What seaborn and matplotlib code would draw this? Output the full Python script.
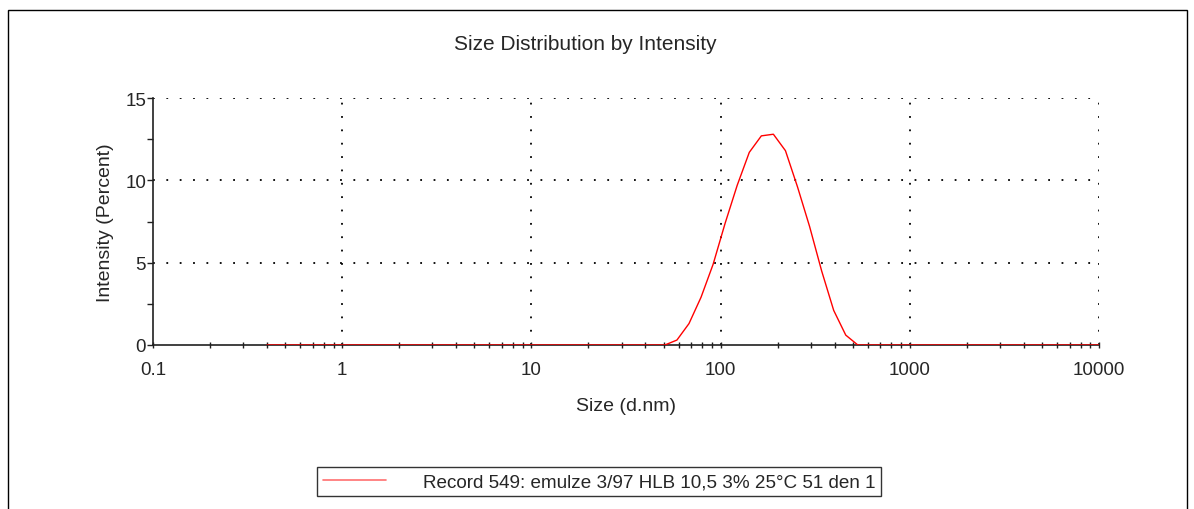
import numpy as np
import pandas as pd
import seaborn as sns
import matplotlib.pyplot as plt
import matplotlib.patches as patches
from matplotlib.ticker import FixedLocator, FuncFormatter, LogLocator, NullFormatter


# size bins (d.nm) and intensity (percent)
sizes = [0.4, 50.75, 58.77, 68.06, 78.82, 91.28, 105.7, 122.4, 141.8, 164.2,
         190.1, 220.2, 255.0, 295.3, 342.0, 396.1, 458.7, 531.2, 10000]
intensity = [0.0, 0.0, 0.3, 1.3, 2.9, 4.9, 7.4, 9.7, 11.7, 12.7,
             12.8, 11.8, 9.6, 7.2, 4.5, 2.1, 0.6, 0.0, 0.0]

x_ticks = [0.1, 1, 10, 100, 1000, 10000]
y_ticks = [0, 5, 10, 15]
y_minor = [2.5, 7.5, 12.5]
y_grid = [5, 10, 15]

title = 'Size Distribution by Intensity'
x_label = 'Size (d.nm)'
y_label = 'Intensity (Percent)'
record = 'Record 549: emulze 3/97 HLB 10,5 3% 25°C 51 den 1'


def main():

	"""
	draw the size distribution chart
	"""

	sns.set_style( 'white' )
	plt.rcParams['font.family'] = [ 'Liberation Sans', 'DejaVu Sans' ]

	df = pd.DataFrame( { 'size': sizes, 'intensity': intensity } )

	fig = plt.figure( figsize=(11.94, 5.10), dpi=100 )
	ax = fig.add_axes( [ 153/1194, 1-346/510, (1099-153)/1194, (346-99)/510 ] )

	# dotted grid, drawn by hand so the zero line stays solid
	dots = (0, (1, 6.4))
	for v in y_grid:
		ax.axhline( v, color='black', linestyle=dots, linewidth=1.3, zorder=0.5 )
	for v in x_ticks[1:]:
		ax.axvline( v, color='black', linestyle=dots, linewidth=1.3, zorder=0.5 )

	sns.lineplot( data=df, x='size', y='intensity', ax=ax, color='#ff0000',
				  linewidth=1.0, label=record, legend=False, zorder=3 )

	# axes scales
	ax.set_xscale( 'log' )
	ax.set_xlim( 0.1, 10000 )
	ax.set_ylim( 0, 15 )

	ax.xaxis.set_major_locator( FixedLocator( x_ticks ) )
	ax.xaxis.set_major_formatter( FuncFormatter( lambda v, p: '{:g}'.format( v ) ) )
	ax.xaxis.set_minor_locator( LogLocator( base=10, subs=np.arange( 2, 10 ) ) )
	ax.xaxis.set_minor_formatter( NullFormatter() )
	ax.yaxis.set_major_locator( FixedLocator( y_ticks ) )
	ax.yaxis.set_minor_locator( FixedLocator( y_minor ) )

	ax.tick_params( axis='x', which='both', direction='inout', length=5, width=1,
					color='#202020', labelsize=13.5, pad=9, bottom=True )
	ax.tick_params( axis='y', which='both', direction='out', length=4.5, width=1,
					color='#202020', labelsize=13.5, pad=0.5, left=True )

	# spines
	for s in [ 'top', 'right' ]:
		ax.spines[ s ].set_visible( False )
	for s in [ 'left', 'bottom' ]:
		ax.spines[ s ].set_color( '#202020' )
		ax.spines[ s ].set_linewidth( 1.2 )
		ax.spines[ s ].set_zorder( 2.5 )

	ax.set_xlabel( x_label, fontsize=14, labelpad=14 )
	ax.set_ylabel( y_label, fontsize=14, labelpad=8 )

	fig.text( 585/1194, 1-44/510, title, ha='center', va='center', fontsize=15 )

	# legend below
	handles, labels = ax.get_legend_handles_labels()
	leg = fig.legend( handles, labels, loc='center', bbox_to_anchor=( 599/1194, 1-482.5/510 ),
					  fontsize=13.6, handlelength=3.35, handletextpad=1.95, fancybox=False,
					  frameon=True, borderpad=0.3, borderaxespad=0 )
	leg.get_frame().set_edgecolor( 'black' )
	leg.get_frame().set_linewidth( 1.0 )
	for line in leg.get_lines():
		line.set_color( '#ff7070' )
		line.set_linewidth( 1.2 )

	# outer frame
	fig.patches.append( patches.Rectangle( ( 8/1194, -0.1 ), (1187-8)/1194, 1.1-11/510,
										   transform=fig.transFigure, fill=False,
										   edgecolor='black', linewidth=1.0 ) )

	fig.savefig( 'out.png', dpi=100 )
	return


# execute main
if __name__ == '__main__':
    main()
